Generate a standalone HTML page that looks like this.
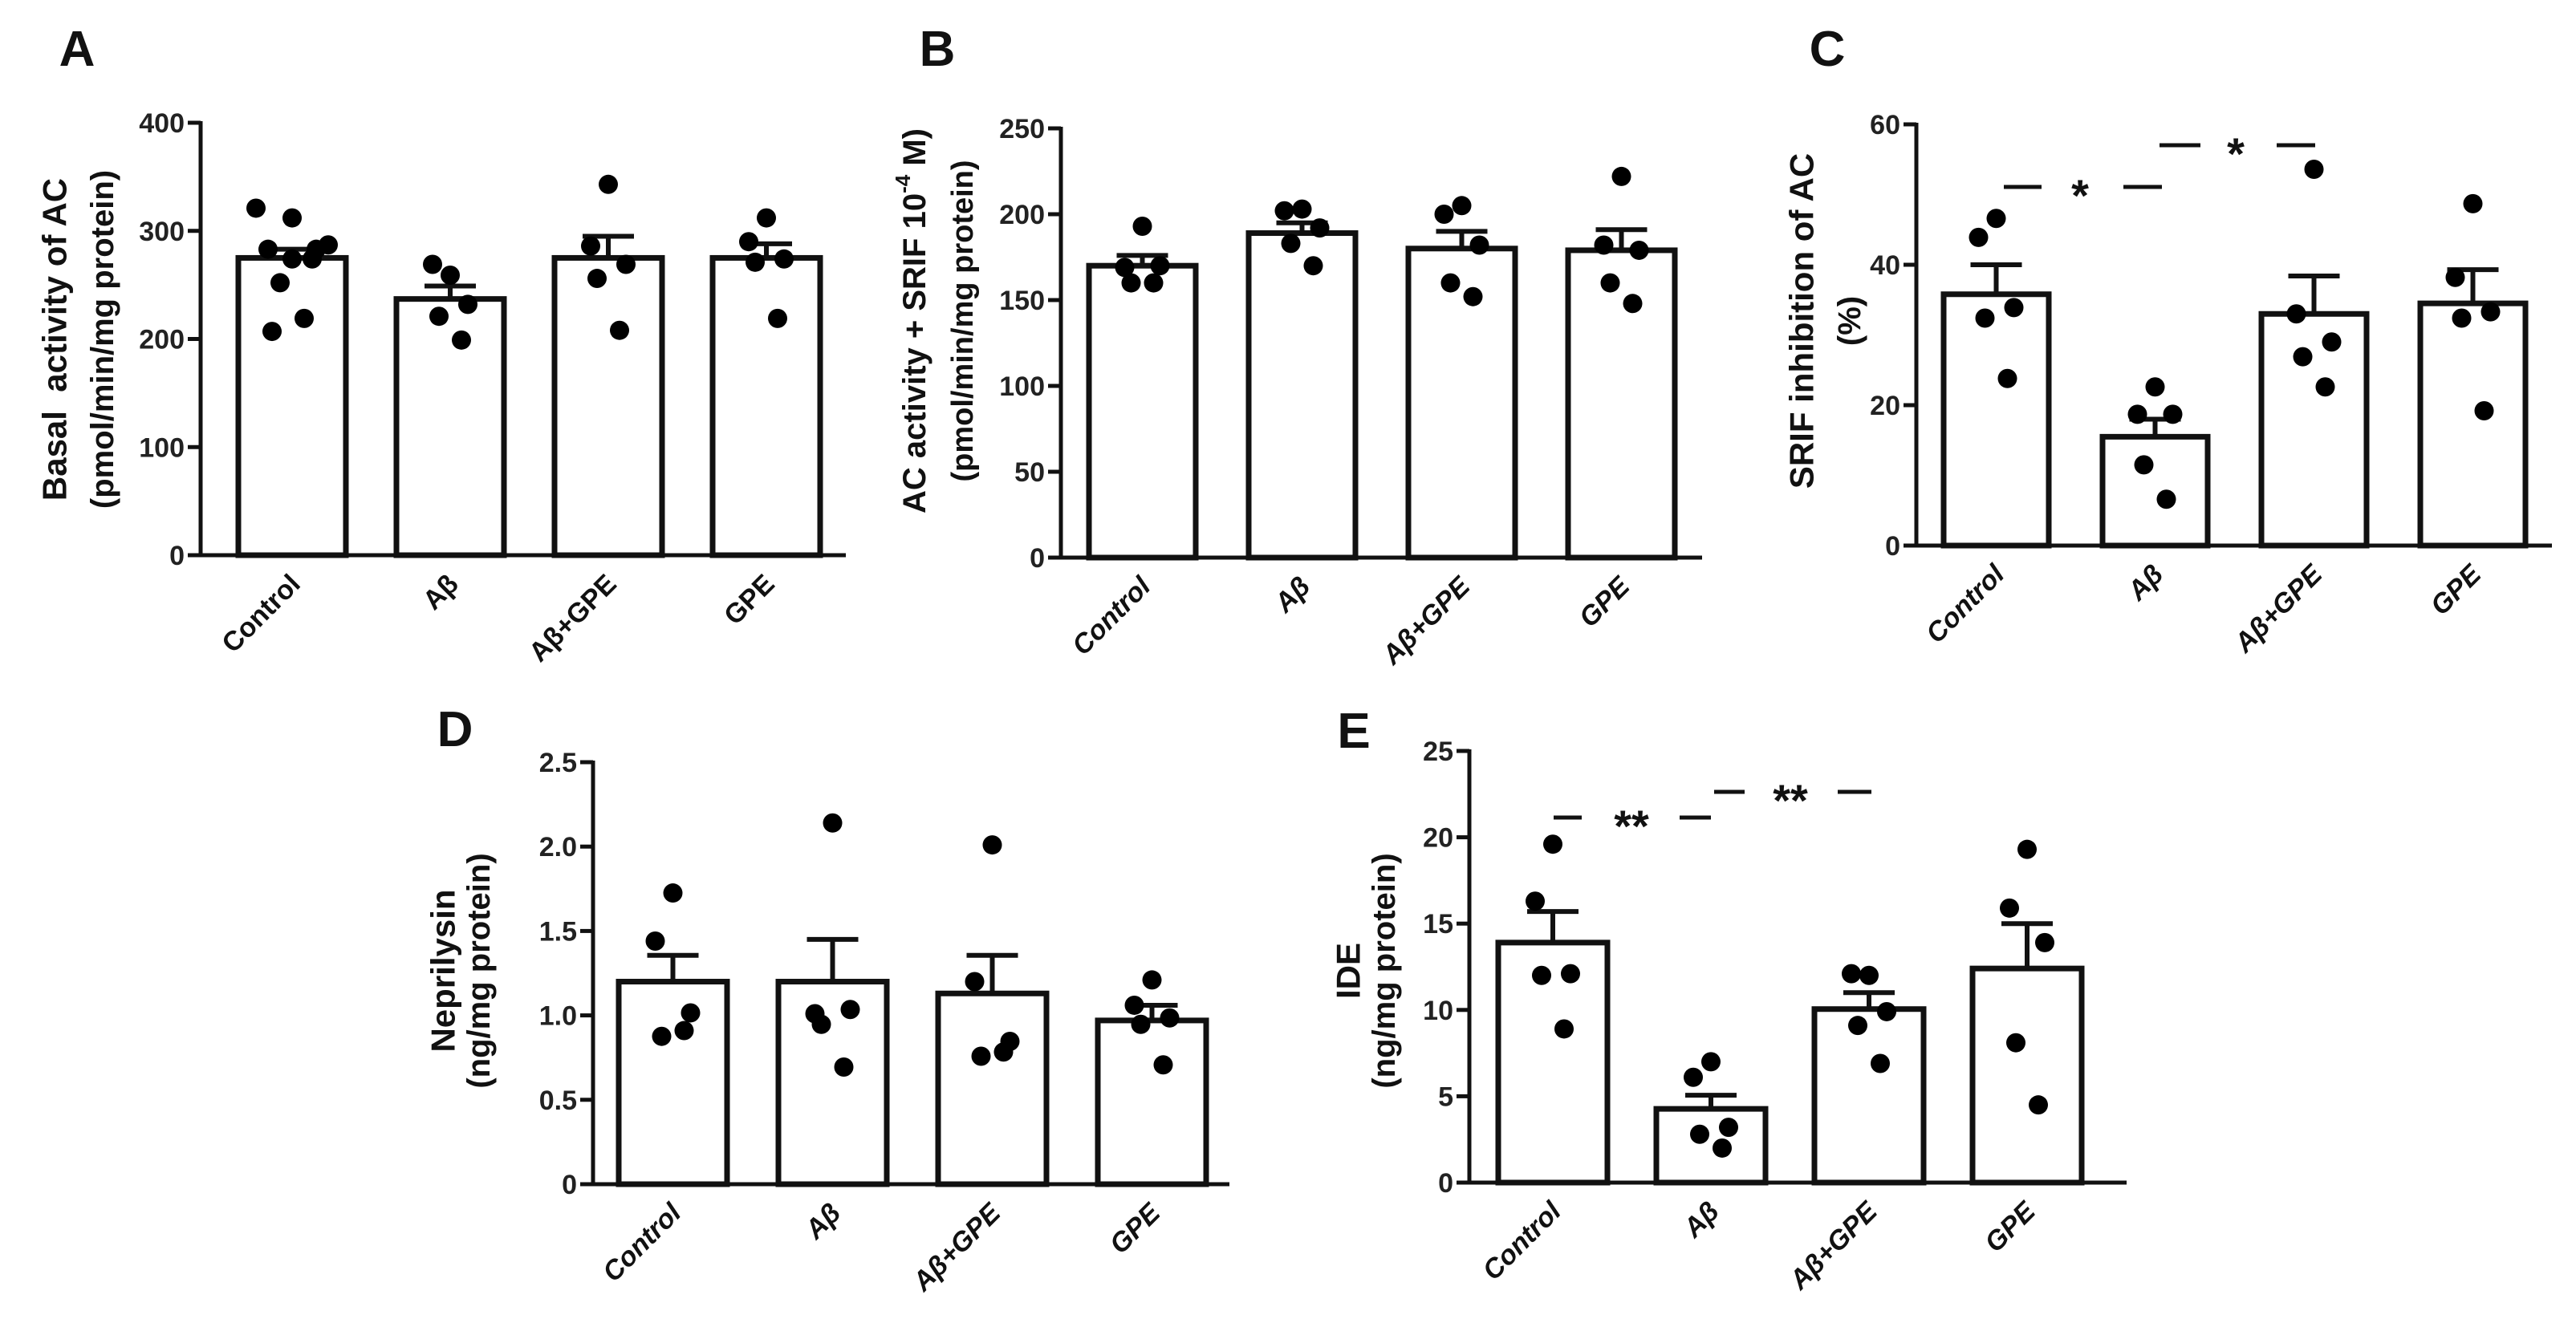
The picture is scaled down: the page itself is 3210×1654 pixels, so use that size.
<!DOCTYPE html>
<html><head><meta charset="utf-8">
<style>
html,body{margin:0;padding:0;background:#fff;}
svg{display:block;font-family:"Liberation Sans",Arial,sans-serif;}
</style></head>
<body>
<svg id="fig" width="3210" height="1654" viewBox="0 0 3210 1654" xmlns="http://www.w3.org/2000/svg"></svg>
<script>
const categories = ["Control", "Aβ", "Aβ+GPE", "GPE"];

const aMeans = [275, 237, 275, 275];
const aSem = [283, 249, 295, 288];
const aPoints = [[321,312,287,283,283,274,274,252,219,207],[259,269,232,221,199],[343,286,269,256,208],[312,290,274,271,219]];
const aTicks = [0,100,200,300,400];

const bMeans = [170, 189, 180, 179];
const bSem = [176, 195, 190, 191];
const bPoints = [[193,169,170,160,160],[203,202,192,183,170],[205,200,182,160,152],[222,182,179,160,148]];
const bTicks = [0,50,100,150,200,250];

const cMeans = [35.8, 15.5, 33, 34.5];
const cSem = [40, 18, 38.4, 39.3];
const cPoints = [[46.6,43.9,33.9,32.4,23.8],[22.6,18.7,18.7,11.5,6.6],[53.6,33,29,26.9,22.6],[48.7,38.2,33.3,32.4,19.2]];
const cTicks = [0,20,40,60];

const dMeans = [1.2, 1.2, 1.13, 0.97];
const dSem = [1.356, 1.45, 1.356, 1.06];
const dPoints = [[1.725,1.44,1.015,0.876,0.91],[2.14,1.01,1.035,0.947,0.694],[2.01,1.2,0.846,0.758,0.783],[1.21,1.06,0.985,0.947,0.707]];
const dTicks = [0,0.5,1.0,1.5,2.0,2.5];
const dTickLabels = ["0","0.5","1.0","1.5","2.0","2.5"];

const eMeans = [13.9, 4.27, 10.05, 12.4];
const eSem = [15.7, 5.06, 11, 15.0];
const ePoints = [[19.6,16.3,12.1,12,8.9],[7,6.1,3.2,2.8,2.0],[12,12.1,9.9,9.1,6.9],[19.3,15.9,13.9,8.1,4.5]];
const eTicks = [0,5,10,15,20,25];

const NS = "http://www.w3.org/2000/svg";
const svg = document.getElementById('fig');
function mk(tag, attrs, parent){ const e=document.createElementNS(NS,tag); for(const k in attrs) e.setAttribute(k,attrs[k]); (parent||svg).appendChild(e); return e; }

const jitterA = [-45,0,45,-30,30,0,25,-15,15,-25];
const jitter5 = [0,-22,22,-14,14];

function panel(cfg){
  const g = mk('g',{});
  
  
  const yScale = v => cfg.y0 - v / cfg.max * (cfg.y0 - cfg.yTop);
  const xLeft = i => cfg.barStart + i * cfg.pitch;
  const ya = mk('line',{x1:cfg.ax,y1:yScale(cfg.max)-2,x2:cfg.ax,y2:cfg.y0,stroke:'#111','stroke-width':5},g);
  
  
  cfg.ticks.forEach((t,i)=>{
    const y=yScale(t);
    const tk = mk('line',{x1:cfg.ax-16,y1:y,x2:cfg.ax,y2:y,stroke:'#111','stroke-width':5},g);
    
    
    const tl = mk('text',{x:cfg.ax-20,y:y+12,'text-anchor':'end','font-size':34,'font-weight':'bold',fill:'#222'},g);
    tl.textContent = cfg.tickLabels ? cfg.tickLabels[i] : String(t);
    
    
  });
  cfg.means.forEach((m,i)=>{
    const x=xLeft(i), cx=x+cfg.bw/2;
    const b = mk('rect',{x:x,y:yScale(m),width:cfg.bw,height:cfg.y0-yScale(m),fill:'#fff',stroke:'#111','stroke-width':7},g);
    
    
    const eb = mk('line',{x1:cx,y1:yScale(m),x2:cx,y2:yScale(cfg.sem[i]),stroke:'#111','stroke-width':6},g);
    
    
    const ec = mk('line',{x1:cx-32,y1:yScale(cfg.sem[i]),x2:cx+32,y2:yScale(cfg.sem[i]),stroke:'#111','stroke-width':6},g);
    
    
    const pts = cfg.points[i];
    pts.forEach((p,j)=>{
      const off = pts.length>5 ? jitterA[j] : jitter5[j];
      const d = mk('circle',{cx:cx+off,cy:yScale(p),r:12,fill:'#000'},g);
      
      
    });
    const lbl = mk('text',{x:0,y:0,'text-anchor':'end','font-size':34,'font-weight':'bold','font-style':cfg.italic?'italic':'normal',fill:'#111',transform:`translate(${cx+12},${cfg.y0+38}) rotate(-45)`},g);
    lbl.textContent = categories[i];
    
    
  });
  const xa = mk('line',{x1:cfg.ax,y1:cfg.y0,x2:cfg.xEnd,y2:cfg.y0,stroke:'#111','stroke-width':5},g);
  
  
  cfg.titles.forEach(t=>{
    const tt = mk('text',{x:0,y:0,'text-anchor':'middle','dominant-baseline':'central','font-size':t.size,'font-weight':'bold',fill:'#111',transform:`translate(${t.x},${t.y}) rotate(-90)`},g);
    tt.innerHTML = t.text;
    
    
  });
  const L = mk('text',{x:cfg.letter[0],y:cfg.letter[1],'text-anchor':'middle','font-size':62,'font-weight':'bold',fill:'#111'},g);
  L.textContent = cfg.letterText;
  
  
  (cfg.sig||[]).forEach(s=>{
    const sg = mk('g',{},g);
    
    
    mk('line',{x1:s.d1[0],y1:s.y,x2:s.d1[1],y2:s.y,stroke:'#111','stroke-width':5},sg);
    mk('line',{x1:s.d2[0],y1:s.y,x2:s.d2[1],y2:s.y,stroke:'#111','stroke-width':5},sg);
    const st = mk('text',{x:s.sx,y:s.y+30,'text-anchor':'middle','font-size':56,'font-weight':'bold',fill:'#111'},sg);
    st.textContent = s.text;
  });
}

panel({name:'panel-a',letterText:'A',letter:[96,82],ax:250,yTop:153,y0:692,max:400,barStart:297,pitch:197,bw:134,xEnd:1054,
  means:aMeans,sem:aSem,points:aPoints,ticks:aTicks,italic:false,
  titles:[{x:68,y:423,size:42,text:'Basal&#160; activity of AC'},{x:128,y:423,size:40,text:'(pmol/min/mg protein)'}]});
panel({name:'panel-b',letterText:'B',letter:[1168,82],ax:1322,yTop:160,y0:695,max:250,barStart:1357,pitch:199,bw:133,xEnd:2121,
  means:bMeans,sem:bSem,points:bPoints,ticks:bTicks,italic:true,
  titles:[{x:1140,y:400,size:40,text:'AC activity + SRIF 10<tspan baseline-shift="super" font-size="26">-4</tspan> M)'},{x:1200,y:400,size:38,text:'(pmol/min/mg protein)'}]});
panel({name:'panel-c',letterText:'C',letter:[2277,82],ax:2388,yTop:155,y0:680,max:60,barStart:2422,pitch:198,bw:131,xEnd:3180,
  means:cMeans,sem:cSem,points:cPoints,ticks:cTicks,italic:true,
  titles:[{x:2245,y:400,size:42,text:'SRIF inhibition of AC'},{x:2305,y:400,size:40,text:'(%)'}],
  sig:[{y:233,d1:[2497,2544],d2:[2646,2694],sx:2592,text:'*'},{y:181,d1:[2691,2742],d2:[2837,2885],sx:2786,text:'*'}]});
panel({name:'panel-d',letterText:'D',letter:[567,930],ax:739,yTop:950,y0:1476,max:2.5,barStart:771,pitch:199,bw:135,xEnd:1532,
  means:dMeans,sem:dSem,points:dPoints,ticks:dTicks,tickLabels:dTickLabels,italic:true,
  titles:[{x:552,y:1210,size:42,text:'Neprilysin'},{x:597,y:1210,size:40,text:'(ng/mg protein)'}]});
panel({name:'panel-e',letterText:'E',letter:[1687,932],ax:1831,yTop:936,y0:1474,max:25,barStart:1867,pitch:197,bw:136,xEnd:2650,
  means:eMeans,sem:eSem,points:ePoints,ticks:eTicks,italic:true,
  titles:[{x:1680,y:1210,size:42,text:'IDE'},{x:1725,y:1210,size:40,text:'(ng/mg protein)'}],
  sig:[{y:1019,d1:[1936,1971],d2:[2093,2132],sx:2033,text:'**'},{y:987,d1:[2136,2174],d2:[2290,2332],sx:2231,text:'**'}]});
</script>
</body></html>
